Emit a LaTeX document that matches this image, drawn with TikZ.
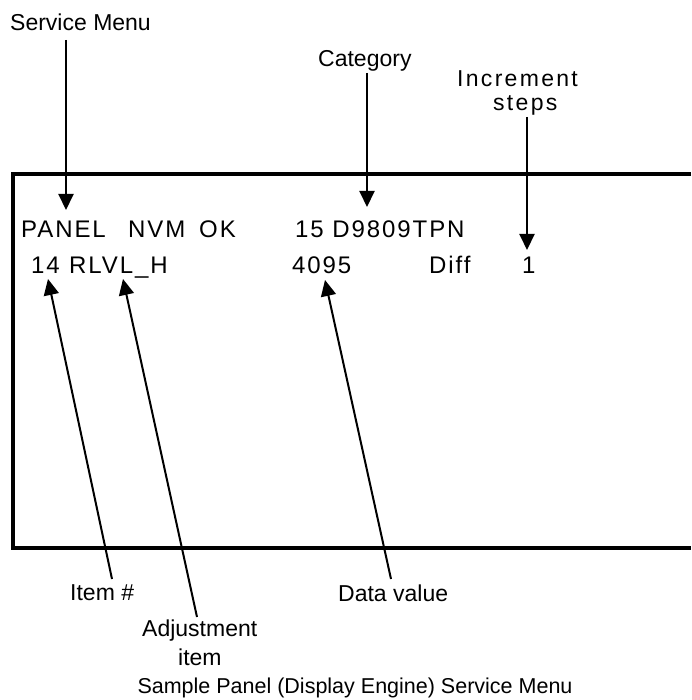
\documentclass[tikz,border=0pt]{standalone}
\usepackage{fontspec}
\setmainfont{Liberation Sans}
\newfontfamily\screenfont[LetterSpace=8]{Liberation Sans}
\newfontfamily\spacedfont[LetterSpace=10]{Liberation Sans}
\usetikzlibrary{arrows.meta}
\begin{document}
\begin{tikzpicture}[x=1pt,y=-1pt,
  lbl/.style={inner sep=0pt,anchor=base west,font=\fontsize{23}{26}\selectfont},
  slbl/.style={inner sep=0pt,anchor=base west,font=\spacedfont\fontsize{23}{26}\selectfont},
  scr/.style={inner sep=0pt,anchor=base west,font=\screenfont\fontsize{24}{28}\selectfont},
  pointer/.style={line width=2pt,-{Triangle[length=16pt,width=15pt]}},
  frame/.style={line width=3.5pt,line join=miter}]
\useasboundingbox (0,0) rectangle (691,700);
% screen frame
\draw[frame] (691,174) -- (13,174) -- (13,548) -- (691,548);
% labels
\node[lbl] (svc) at (10,31) {Service Menu};
\node[lbl] (cat) at (318,66.5) {Category};
\node[slbl] (inc1) at (457,87) {Increment};
\node[slbl] (inc2) at (493,111) {steps};
\node[lbl] (itm) at (70,600) {Item \#};
\node[lbl] (dat) at (338,601) {Data value};
\node[lbl] (adj1) at (142,636) {Adjustment};
\node[lbl] (adj2) at (178,665) {item};
\node[lbl,anchor=base,font=\fontsize{21.5}{25}\selectfont] (cap) at (355,693) {Sample Panel (Display Engine) Service Menu};
% screen text
\node[scr] (panel) at (21,238) {PANEL};
\node[scr] (nvm) at (128,238) {NVM};
\node[scr] (ok) at (199,238) {OK};
\node[scr] (catv) at (295,238) {15 D9809TPN};
\node[scr] (num) at (31,273) {14};
\node[scr] (adjv) at (69,273) {RLVL\_H};
\node[scr] (datv) at (292,273) {4095};
\node[scr] (diff) at (429,273) {Diff};
\node[scr] (one) at (522,273) {1};
% arrow end points
\coordinate (svcA) at (66,40);   \coordinate (svcB) at (66,210);
\coordinate (catA) at (367,73);  \coordinate (catB) at (367,207);
\coordinate (incA) at (527,117); \coordinate (incB) at (527,250);
\coordinate (itmA) at (112,579); \coordinate (itmB) at (48,279);
\coordinate (adjA) at (197,617); \coordinate (adjB) at (123,279);
\coordinate (datA) at (391,579); \coordinate (datB) at (325,280);
\draw[pointer] (svcA) -- (svcB);
\draw[pointer] (catA) -- (catB);
\draw[pointer] (incA) -- (incB);
\draw[pointer] (itmA) -- (itmB);
\draw[pointer] (adjA) -- (adjB);
\draw[pointer] (datA) -- (datB);
\end{tikzpicture}
\end{document}
